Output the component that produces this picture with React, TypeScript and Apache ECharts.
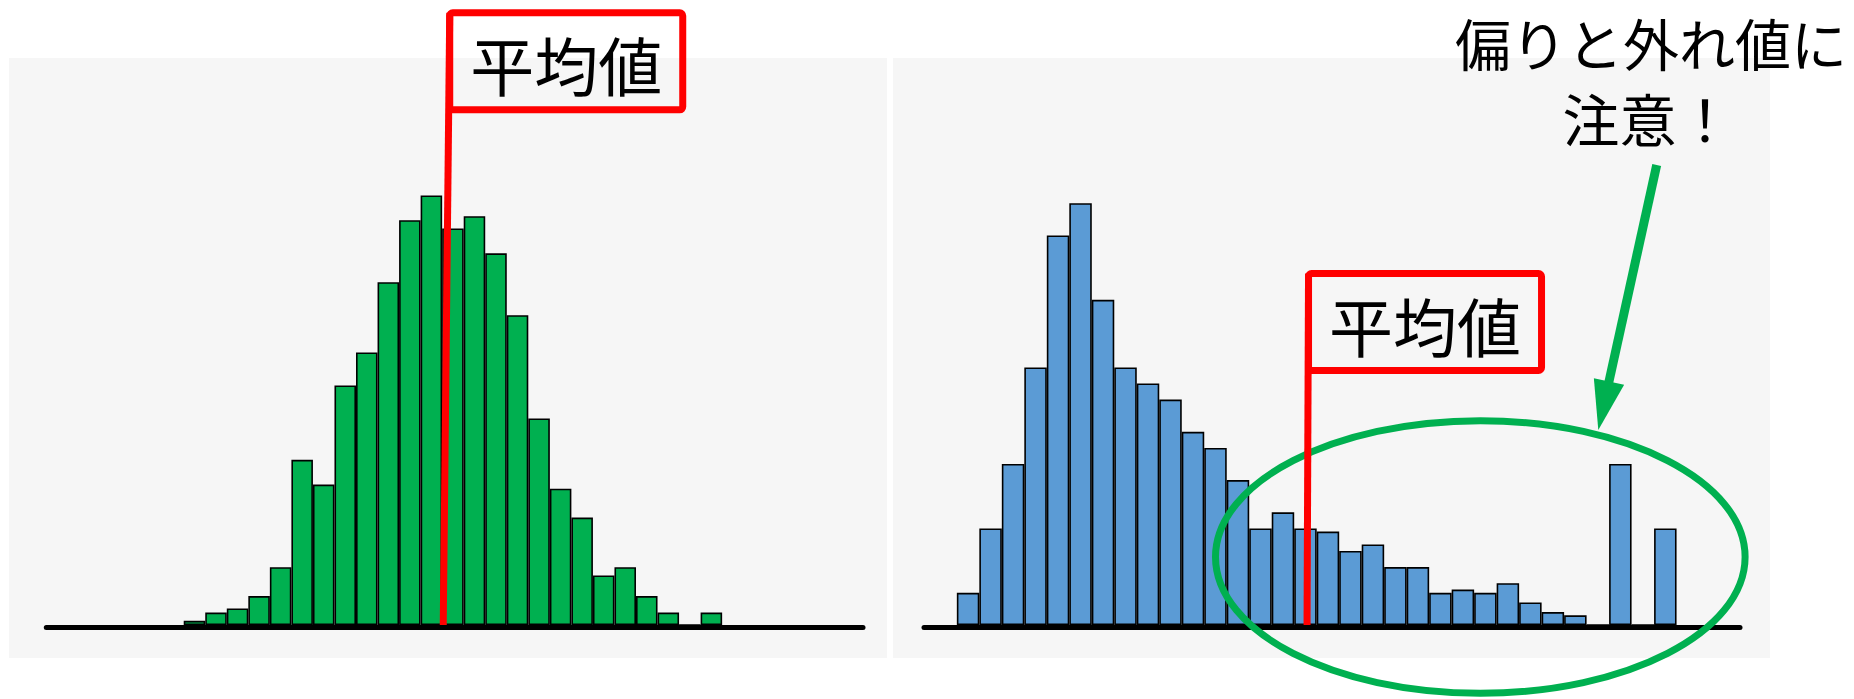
import React, { useEffect, useRef } from "react";
import * as echarts from "echarts";

// Histogram counts per bin (bin i spans [i, i + 1] on the x axis)
const normalCounts = [1, 3, 4, 7, 14, 40, 34, 58, 66, 83, 98, 104, 96, 99, 90, 75, 50, 33, 26, 12, 14, 7, 3, 0, 3];
const skewedCounts = [10, 30, 50, 80, 121, 131, 101, 80, 75, 70, 60, 55, 45, 30, 35, 30, 29, 23, 25, 18, 18, 10, 11, 10, 13, 7, 4, 3, 0, 50, 0, 30];

// Mean marker positions, in bin units
const normalMean = 12.05;
const skewedMean = 15.57;

// Texts
const meanLabel = "平均値";
const noteLines = ["偏りと外れ値に", "注意！"];

const W = 1854;
const H = 699;
const FONT = '"Noto Sans CJK JP", "Noto Sans", sans-serif';
const GREEN = "#00b050";
const BLUE = "#5b9bd5";
const RED = "#ff0000";
const PANEL = "#f6f6f6";
const BAR_BOTTOM = 625;

const panels = [
  { x: 9, y: 58, w: 878, h: 600 },
  { x: 893, y: 58, w: 877, h: 600 },
];

const layouts = [
  { left: 46.3, right: 863, xMin: -6.38, xMax: 31.54, yMax: 120, pxPerUnit: 4.13 },
  { left: 924, right: 1740, xMin: -1.46, xMax: 34.82, yMax: 150, pxPerUnit: 3.22 },
];

function buildOption() {
  const grids = layouts.map((l) => ({
    left: l.left,
    width: l.right - l.left,
    top: BAR_BOTTOM - l.yMax * l.pxPerUnit,
    height: l.yMax * l.pxPerUnit,
    containLabel: false,
  }));
  const xAxes = layouts.map((l, i) => ({
    type: "value",
    gridIndex: i,
    min: l.xMin,
    max: l.xMax,
    offset: 2.5,
    axisLine: { show: true, onZero: false, lineStyle: { color: "#000", width: 5 } },
    axisTick: { show: false },
    axisLabel: { show: false },
    splitLine: { show: false },
  }));
  const yAxes = layouts.map((l, i) => ({
    type: "value",
    gridIndex: i,
    min: 0,
    max: l.yMax,
    show: false,
    splitLine: { show: false },
  }));
  const sets = [
    { counts: normalCounts, color: GREEN },
    { counts: skewedCounts, color: BLUE },
  ];
  const series = sets.map((s, i) => {
    const l = layouts[i];
    return {
      type: "bar",
      xAxisIndex: i,
      yAxisIndex: i,
      silent: true,
      barWidth: (l.right - l.left) / (l.xMax - l.xMin),
      data: s.counts.map((c, k) => [k + 0.5, c]),
      itemStyle: { color: s.color, borderColor: "#000", borderWidth: 1.6 },
      z: 2,
    };
  });
  return {
    animation: false,
    backgroundColor: "#ffffff",
    grid: grids,
    xAxis: xAxes,
    yAxis: yAxes,
    series,
  };
}

// Red flag: a pole from the mean on the baseline up to a boxed label
function meanFlag(px: number[], lean: number, boxTop: number, key: string): any[] {
  const boxW = 233;
  const boxH = 97;
  const topX = px[0] + lean;
  const boxX = topX;
  return [
    {
      type: "line",
      id: key + "-line",
      z: 30,
      shape: { x1: px[0], y1: px[1], x2: topX, y2: boxTop },
      style: { stroke: RED, lineWidth: 7, lineCap: "butt" },
      silent: true,
    },
    {
      type: "rect",
      id: key + "-box",
      z: 31,
      shape: { x: boxX, y: boxTop, width: boxW, height: boxH, r: 3 },
      style: { fill: "rgba(0,0,0,0)", stroke: RED, lineWidth: 7 },
      silent: true,
    },
    {
      type: "text",
      id: key + "-text",
      z: 32,
      x: boxX + boxW / 2,
      y: boxTop + boxH / 2 + 1.5,
      style: {
        text: meanLabel,
        fill: "#000",
        font: `64px ${FONT}`,
        align: "center",
        verticalAlign: "middle",
      },
      silent: true,
    },
  ];
}

function arrow(start: number[], tip: number[], headLen: number, headW: number, width: number): any[] {
  const dx = tip[0] - start[0];
  const dy = tip[1] - start[1];
  const len = Math.hypot(dx, dy);
  const ux = dx / len;
  const uy = dy / len;
  const nx = -uy;
  const ny = ux;
  const bx = tip[0] - ux * headLen;
  const by = tip[1] - uy * headLen;
  return [
    {
      type: "line",
      z: 25,
      shape: { x1: start[0], y1: start[1], x2: bx + ux * 4, y2: by + uy * 4 },
      style: { stroke: GREEN, lineWidth: width, lineCap: "butt" },
      silent: true,
    },
    {
      type: "polygon",
      z: 25,
      shape: {
        points: [
          [tip[0], tip[1]],
          [bx + (nx * headW) / 2, by + (ny * headW) / 2],
          [bx - (nx * headW) / 2, by - (ny * headW) / 2],
        ],
      },
      style: { fill: GREEN },
      silent: true,
    },
  ];
}

export default function App() {
  const ref = useRef<HTMLDivElement>(null);

  useEffect(() => {
    if (!ref.current) return;
    const chart = echarts.init(ref.current, null, { renderer: "svg", width: W, height: H });
    chart.setOption(buildOption());

    const leftBase = chart.convertToPixel({ gridIndex: 0 }, [normalMean, 0]) as number[];
    const rightBase = chart.convertToPixel({ gridIndex: 1 }, [skewedMean, 0]) as number[];

    const graphic: any[] = [];
    panels.forEach((p, i) => {
      graphic.push({
        type: "rect",
        id: "panel" + i,
        z: -10,
        shape: { x: p.x, y: p.y, width: p.w, height: p.h },
        style: { fill: PANEL },
        silent: true,
      });
    });
    graphic.push({
      type: "ellipse",
      id: "outlier-ring",
      z: 20,
      shape: { cx: 1480.3, cy: 557, rx: 264.8, ry: 136.3 },
      style: { fill: "rgba(0,0,0,0)", stroke: GREEN, lineWidth: 7 },
      silent: true,
    });
    graphic.push(...meanFlag(leftBase, 6.5, 12.8, "left"));
    graphic.push(...meanFlag(rightBase, 1.5, 273.5, "right"));
    graphic.push(...arrow([1656.7, 165], [1598.3, 430], 49.7, 31, 9));
    graphic.push({
      type: "text",
      id: "note1",
      z: 40,
      x: 1847,
      y: 41,
      style: {
        text: noteLines[0],
        fill: "#000",
        font: `56px ${FONT}`,
        align: "right",
        verticalAlign: "middle",
      },
      silent: true,
    });
    graphic.push({
      type: "text",
      id: "note2",
      z: 40,
      x: 1648,
      y: 117,
      style: {
        text: noteLines[1],
        fill: "#000",
        font: `57px ${FONT}`,
        align: "center",
        verticalAlign: "middle",
      },
      silent: true,
    });
    chart.setOption({ graphic });

    return () => chart.dispose();
  }, []);

  return (
    <div
      ref={ref}
      style={{ position: "fixed", left: 0, top: 0, width: W, height: H, background: "#fff" }}
    />
  );
}
